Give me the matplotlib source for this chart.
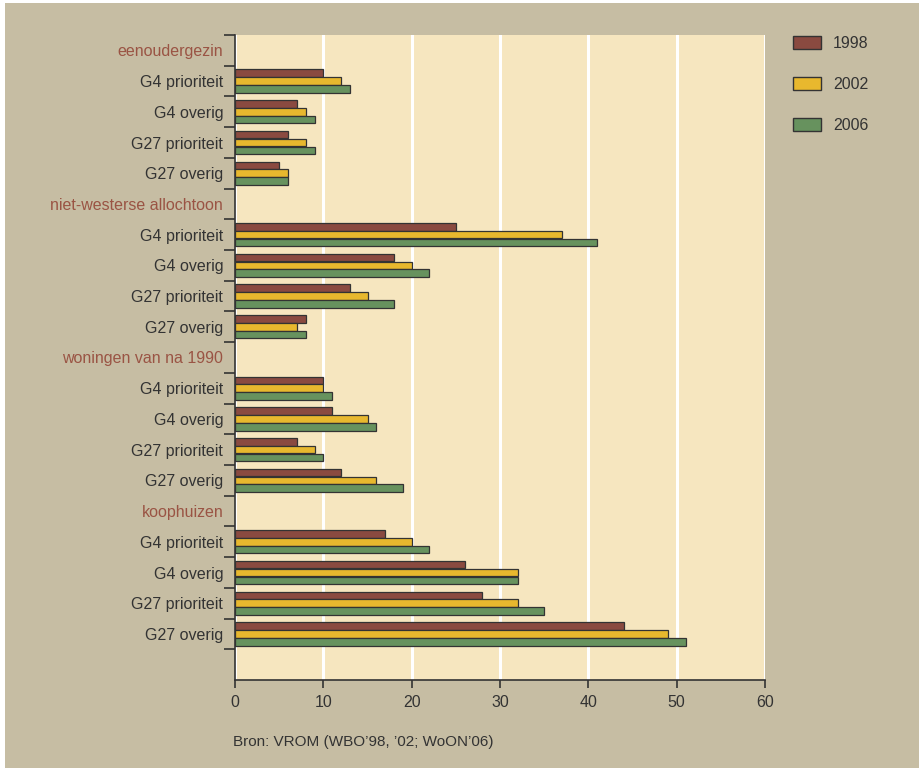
import numpy as np
import matplotlib.pyplot as plt
from matplotlib.patches import Rectangle, Patch

################################## DATA ##################################

groups = ['eenoudergezin', 'niet-westerse allochtoon', 'woningen van na 1990', 'koophuizen']
subrows = ['G4 prioriteit', 'G4 overig', 'G27 prioriteit', 'G27 overig']
years = ['1998', '2002', '2006']

v1998 = [10, 7, 6, 5,   25, 18, 13, 8,   10, 11, 7, 12,   17, 26, 28, 44]
v2002 = [12, 8, 8, 6,   37, 20, 15, 7,   10, 15, 9, 16,   20, 32, 32, 49]
v2006 = [13, 9, 9, 6,   41, 22, 18, 8,   11, 16, 10, 19,  22, 32, 35, 51]

source = 'Bron: VROM (WBO\u201998, \u201902; WoON\u201906)'

################################## STYLE ##################################

tan = '#c6bda3'
cream = '#f6e6bf'
colors = ['#8a4a40', '#e8b82e', '#67925e']
head_col = '#9a5444'
dark = '#333333'

plt.rcParams['font.family'] = ['Liberation Sans', 'DejaVu Sans']

################################## PLOT ##################################

fig = plt.figure(figsize=(9.2, 7.7), dpi=100)
fig.patch.set_facecolor('white')
fig.patches.append(Rectangle((5/920, 2/770), 915/920, 765/770, transform=fig.transFigure,
                             facecolor=tan, edgecolor='none', zorder=-10))

ax = fig.add_axes([235/920, 1-680/770, 530/920, 645/770])
ax.set_facecolor(cream)

# row positions: header row then four sub rows per group, one empty row at the bottom
labels = []
label_cols = []
bar_rows = []
row = 0
for g in groups:
    labels.append(g)
    label_cols.append(head_col)
    row += 1
    for s in subrows:
        labels.append(s)
        label_cols.append(dark)
        bar_rows.append(row)
        row += 1
nrows = row + 1

bar_rows = np.array(bar_rows)
h = 0.245
for k, vals in enumerate([v1998, v2002, v2006]):
    ax.barh(bar_rows + 0.5 + (k-1)*0.255, vals, height=h, color=colors[k],
            edgecolor=dark, linewidth=0.9, zorder=3)

ax.set_xlim(0, 60)
ax.set_ylim(nrows, 0)
ax.set_xticks(np.arange(0, 61, 10))
ax.grid(axis='x', color='white', linewidth=2.2, zorder=1)
ax.set_axisbelow(True)

ax.set_yticks(np.arange(len(labels)) + 0.5)
ax.set_yticklabels(labels, fontsize=11.5)
for t, c in zip(ax.get_yticklabels(), label_cols):
    t.set_color(c)
ax.set_yticks(np.arange(0, len(labels) + 1), minor=True)
ax.tick_params(axis='y', which='major', length=0, pad=8.5)
ax.tick_params(axis='y', which='minor', length=8, width=1.2, color=dark)
ax.tick_params(axis='x', length=6, width=1.2, color=dark, labelsize=11.5,
               labelcolor=dark, pad=5)

for s in ['top', 'right']:
    ax.spines[s].set_visible(False)
for s in ['left', 'bottom']:
    ax.spines[s].set_color(dark)
    ax.spines[s].set_linewidth(1.2)

handles = [Patch(facecolor=c, edgecolor=dark, linewidth=1.0) for c in colors]
fig.legend(handles, years, loc='upper left', bbox_to_anchor=(793/920, 1-36/770),
           frameon=False, fontsize=11.5, handlelength=1.75, handleheight=0.9,
           handletextpad=0.75, labelspacing=1.62, borderpad=0, borderaxespad=0,
           labelcolor=dark)

fig.text(233/920, 1-742/770, source, fontsize=11, color=dark, va='center', ha='left')

plt.savefig('out.png', dpi=100, facecolor=fig.get_facecolor())
